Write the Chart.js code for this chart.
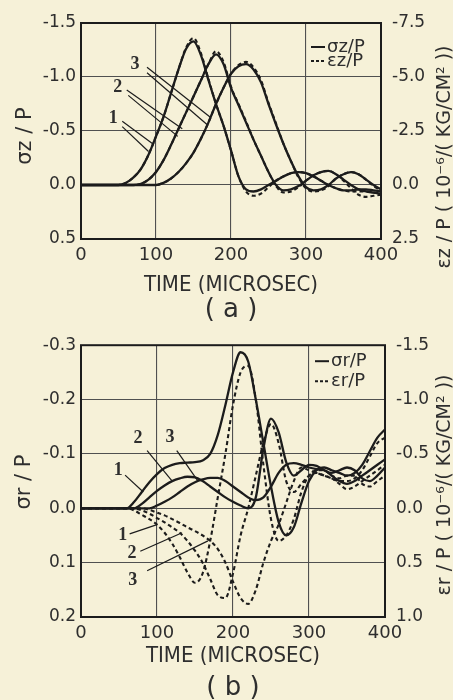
<!DOCTYPE html>
<html>
<head>
<meta charset="utf-8">
<script src="https://cdn.jsdelivr.net/npm/chart.js@4.4.1/dist/chart.umd.min.js"></script>
<style>
  body { margin: 0; background: #f6f1d8; }
  #wrap { position: relative; width: 453px; height: 700px; }
  canvas { position: absolute; left: 0; }
</style>
</head>
<body>
<div id="wrap">
  <canvas id="chartA" width="453" height="330" style="top:0"></canvas>
  <canvas id="chartB" width="453" height="370" style="top:330px"></canvas>
</div>
<script>
// time axis (microsec)
const TIME = [0, 10, 20, 30, 40, 50, 60, 70, 80, 90, 100, 110, 120, 130, 140, 150, 160, 170, 180, 190, 200,
  210, 220, 230, 240, 250, 260, 270, 280, 290, 300, 310, 320, 330, 340, 350, 360, 370, 380, 390, 400];

// (a) sigma_z / P  (left axis)
const SZ1 = [0, 0, 0, 0, 0, 0, -0.02, -0.07, -0.15, -0.28, -0.45, -0.63, -0.85, -1.07, -1.26, -1.33,
  -1.2, -0.97, -0.75, -0.55, -0.32, -0.08, 0.04, 0.06, 0.04, 0.0,
  -0.04, -0.08, -0.11, -0.12, -0.11, -0.08, -0.04, 0.0, 0.03, 0.05, 0.05, 0.04, 0.04, 0.05, 0.06];
const SZ2 = [0, 0, 0, 0, 0, 0, 0, 0, -0.01, -0.05, -0.12, -0.23, -0.37, -0.52, -0.67, -0.82, -0.97, -1.12,
  -1.21, -1.12, -0.9, -0.74, -0.58, -0.42, -0.27, -0.12,
  0.0, 0.05, 0.04, 0.01, -0.04, -0.09, -0.12, -0.13, -0.1, -0.05, 0.0, 0.04, 0.06, 0.07, 0.08];
const SZ3 = [0, 0, 0, 0, 0, 0, 0, 0, 0, 0, 0, -0.02, -0.06, -0.12, -0.2, -0.3, -0.43, -0.58, -0.75, -0.9, -1.03,
  -1.1, -1.12, -1.07, -0.95, -0.75, -0.56, -0.38, -0.22, -0.08, 0.02,
  0.05, 0.04, 0.0, -0.06, -0.1, -0.12, -0.1, -0.05, 0.0, 0.04];

// (a) eps_z / P  (right axis, 10^-6 per KG/CM2)
const EZ1 = [0, 0, 0, 0, 0, 0, -0.1, -0.35, -0.75, -1.4, -2.25, -3.15, -4.25, -5.35, -6.35, -6.8,
  -6.1, -4.9, -3.75, -2.75, -1.6, -0.4, 0.3, 0.5, 0.4, 0.1,
  -0.2, -0.4, -0.55, -0.6, -0.55, -0.4, -0.2, 0.0, 0.15, 0.25, 0.3, 0.3, 0.3, 0.35, 0.4];
const EZ2 = [0, 0, 0, 0, 0, 0, 0, 0, -0.05, -0.25, -0.6, -1.15, -1.85, -2.6, -3.35, -4.1, -4.85, -5.6,
  -6.2, -5.7, -4.55, -3.75, -2.95, -2.1, -1.35, -0.6,
  0.05, 0.35, 0.3, 0.1, -0.2, -0.45, -0.6, -0.65, -0.5, -0.2, 0.15, 0.45, 0.55, 0.5, 0.45];
const EZ3 = [0, 0, 0, 0, 0, 0, 0, 0, 0, 0, 0, -0.1, -0.3, -0.6, -1.0, -1.5, -2.15, -2.9, -3.75, -4.5, -5.15,
  -5.55, -5.7, -5.45, -4.85, -3.8, -2.85, -1.9, -1.1, -0.35, 0.15,
  0.3, 0.25, 0.05, -0.3, -0.5, -0.6, -0.5, -0.25, 0.05, 0.25];

// (b) sigma_r / P  (left axis)
const SR1 = [0, 0, 0, 0, 0, 0, 0, -0.012, -0.03, -0.048, -0.063, -0.074, -0.08, -0.083, -0.084, -0.085, -0.088,
  -0.1, -0.135, -0.19, -0.25, -0.287, -0.27, -0.2, -0.12, -0.04, 0.025,
  0.05, 0.035, -0.01, -0.05, -0.07, -0.075, -0.07, -0.065, -0.06, -0.065, -0.08, -0.105, -0.13, -0.145];
const SR2 = [0, 0, 0, 0, 0, 0, 0, 0, -0.008, -0.02, -0.032, -0.042, -0.05, -0.055, -0.058, -0.057, -0.05, -0.04,
  -0.03, -0.02, -0.012, -0.005, 0.0, -0.02, -0.11, -0.165, -0.14, -0.085,
  -0.06, -0.07, -0.08, -0.078, -0.07, -0.065, -0.07, -0.075, -0.07, -0.055, -0.05, -0.06, -0.075];
const SR3 = [0, 0, 0, 0, 0, 0, 0, 0, 0, 0, -0.005, -0.012, -0.02, -0.03, -0.04, -0.048, -0.053, -0.056, -0.056, -0.05,
  -0.04, -0.03, -0.02, -0.015, -0.02, -0.04, -0.065, -0.08, -0.083, -0.08,
  -0.075, -0.072, -0.07, -0.06, -0.05, -0.045, -0.05, -0.06, -0.07, -0.08, -0.09];

// (b) eps_r / P  (right axis)
const ER1 = [0, 0, 0, 0, 0, 0, 0, 0.02, 0.06, 0.1, 0.15, 0.225, 0.325, 0.45, 0.59, 0.685, 0.6,
  0.3, -0.1, -0.5, -0.95, -1.25, -1.31, -1.0, -0.4, 0.1, 0.3,
  0.25, 0.1, -0.15, -0.3, -0.325, -0.3, -0.275, -0.25, -0.25, -0.275, -0.35, -0.475, -0.6, -0.65];
const ER2 = [0, 0, 0, 0, 0, 0, 0, 0, 0.02, 0.05, 0.09, 0.13, 0.175, 0.225, 0.3, 0.39, 0.5, 0.65,
  0.8, 0.825, 0.6, 0.25, 0.0, -0.3, -0.6, -0.775, -0.6, -0.25,
  -0.15, -0.225, -0.3, -0.35, -0.35, -0.3, -0.275, -0.3, -0.3, -0.225, -0.2, -0.25, -0.3];
const ER3 = [0, 0, 0, 0, 0, 0, 0, 0, 0, 0.015, 0.04, 0.065, 0.1, 0.135, 0.175, 0.21, 0.25, 0.3, 0.375,
  0.5, 0.675, 0.825, 0.88, 0.75, 0.5, 0.3, 0.15, -0.05, -0.25,
  -0.375, -0.35, -0.325, -0.3, -0.275, -0.225, -0.175, -0.2, -0.25, -0.3, -0.35, -0.4];

// curve numbers with their leader lines, in data units (time, left-axis value)
const LABELS_A = [
  { text: "1", at: [43, -0.62], lines: [[55, -0.59, 96, -0.38], [55, -0.54, 90, -0.31]] },
  { text: "2", at: [49, -0.9], lines: [[61, -0.88, 135, -0.52], [63, -0.83, 129, -0.45]] },
  { text: "3", at: [72, -1.12], lines: [[88, -1.09, 172, -0.63], [88, -1.04, 168, -0.56]] },
];
const LABELS_B = [
  { text: "1", at: [49, -0.07], lines: [[58, -0.061, 82, -0.03]] },
  { text: "2", at: [75, -0.128], lines: [[87, -0.106, 120, -0.05]] },
  { text: "3", at: [117, -0.13], lines: [[126, -0.106, 154, -0.05]] },
  { text: "1", at: [55, 0.05], lines: [[64, 0.047, 100, 0.03]] },
  { text: "2", at: [67, 0.083], lines: [[78, 0.079, 133, 0.045]] },
  { text: "3", at: [68, 0.133], lines: [[87, 0.115, 167, 0.06]] },
];

const INK = "#1c1c1c";
const TXT = "#2e2e2e";
const GRID = "#505050";

const pts = (ys) => ys.map((y, i) => ({ x: TIME[i], y: y }));

function solid(ys) {
  return { data: pts(ys), yAxisID: "y", borderColor: INK, borderWidth: 2.3,
    pointRadius: 0, cubicInterpolationMode: "monotone", fill: false };
}
function dashed(ys) {
  return { data: pts(ys), yAxisID: "y2", borderColor: INK, borderWidth: 2.1,
    borderDash: [4, 3], pointRadius: 0, cubicInterpolationMode: "monotone", fill: false };
}

const decor = {
  id: "decor",
  afterDatasetsDraw(chart, args, o) {
    const ctx = chart.ctx, a = chart.chartArea;
    const sx = chart.scales.x, sy = chart.scales.y;
    ctx.save();
    ctx.strokeStyle = INK;
    ctx.lineWidth = 2;
    ctx.strokeRect(a.left, a.top, a.right - a.left, a.bottom - a.top);

    // curve numbers
    ctx.lineWidth = 1.2;
    ctx.fillStyle = TXT;
    ctx.font = 'bold 18px "Liberation Serif"';
    ctx.textAlign = "center";
    ctx.textBaseline = "middle";
    o.labels.forEach((l) => {
      l.lines.forEach((s) => {
        ctx.beginPath();
        ctx.moveTo(sx.getPixelForValue(s[0]), sy.getPixelForValue(s[1]));
        ctx.lineTo(sx.getPixelForValue(s[2]), sy.getPixelForValue(s[3]));
        ctx.stroke();
      });
      ctx.fillText(l.text, sx.getPixelForValue(l.at[0]), sy.getPixelForValue(l.at[1]));
    });

    // legend
    ctx.font = '18px "DejaVu Sans"';
    ctx.textAlign = "left";
    const lx = a.right - 70;
    o.legend.forEach((txt, i) => {
      const ly = a.top + o.legendY[i];
      ctx.beginPath();
      ctx.lineWidth = 2;
      ctx.setLineDash(i ? [3, 2] : []);
      ctx.moveTo(lx, ly);
      ctx.lineTo(lx + 14, ly);
      ctx.stroke();
      ctx.setLineDash([]);
      ctx.fillText(txt, lx + 16, ly, 50);
    });

    // x title and panel letter
    const cx = (a.left + a.right) / 2;
    ctx.textAlign = "center";
    ctx.font = '22px "DejaVu Sans Condensed", "DejaVu Sans"';
    ctx.fillText("TIME (MICROSEC)", cx, o.xTitleY, 180);
    ctx.font = '26px "DejaVu Sans"';
    ctx.fillText(o.panel, cx, o.panelY);

    // rotated axis titles
    ctx.save();
    ctx.translate(o.leftTitle[1], o.leftTitle[2]);
    ctx.rotate(-Math.PI / 2);
    ctx.font = '21px "DejaVu Sans"';
    ctx.fillText(o.leftTitle[0], 0, 0);
    ctx.restore();
    ctx.save();
    ctx.translate(o.rightTitle[1], o.rightTitle[2]);
    ctx.rotate(-Math.PI / 2);
    ctx.font = '19px "DejaVu Sans"';
    ctx.fillText(o.rightTitle[0], 0, 0, 268);
    ctx.restore();
    ctx.restore();
  },
};

function makeChart(id, sets, yl, yr, leftW, rightW, xH, padTop, deco) {
  return new Chart(document.getElementById(id), {
    type: "line",
    data: { datasets: sets },
    plugins: [decor],
    options: {
      responsive: false,
      animation: false,
      layout: { padding: { top: padTop, left: 0, right: 0, bottom: 0 } },
      plugins: { legend: { display: false }, tooltip: { enabled: false }, decor: deco },
      scales: {
        x: {
          type: "linear", min: 0, max: 400,
          afterFit: (s) => { s.height = xH; },
          grid: { color: GRID, lineWidth: 1.1, drawTicks: false },
          border: { display: false },
          ticks: { stepSize: 100, padding: 6, color: TXT, font: { family: "DejaVu Sans", size: 18 } },
        },
        y: {
          position: "left", min: yl[0], max: yl[1], reverse: true,
          afterFit: (s) => { s.width = leftW; },
          grid: { color: GRID, lineWidth: 1.1, drawTicks: false },
          border: { display: false },
          ticks: { stepSize: yl[2], padding: 5, color: TXT, font: { family: "DejaVu Sans", size: 17 },
            callback: (v) => v.toFixed(1) },
        },
        y2: {
          position: "right", min: yr[0], max: yr[1], reverse: true,
          afterFit: (s) => { s.width = rightW; },
          grid: { display: false },
          border: { display: false },
          ticks: { stepSize: yr[2], padding: 3, color: TXT, font: { family: "DejaVu Sans", size: 17 },
            callback: (v) => v.toFixed(1) },
        },
      },
    },
  });
}

makeChart("chartA",
  [solid(SZ1), solid(SZ2), solid(SZ3), dashed(EZ1), dashed(EZ2), dashed(EZ3)],
  [-1.5, 0.5, 0.5], [-7.5, 2.5, 2.5], 81, 72, 91, 23,
  { labels: LABELS_A, legend: ["σz/P", "εz/P"], legendY: [24, 38],
    xTitleY: 285, panel: "( a )", panelY: 310,
    leftTitle: ["σz / P", 26, 136], rightTitle: ["εz / P ( 10⁻⁶/( KG/CM² ))", 445, 157] });

makeChart("chartB",
  [solid(SR1), solid(SR2), solid(SR3), dashed(ER1), dashed(ER2), dashed(ER3)],
  [-0.3, 0.2, 0.1], [-1.5, 1.0, 0.5], 81, 68, 83, 9,
  { labels: LABELS_B, legend: ["σr/P", "εr/P"], legendY: [16, 36],
    xTitleY: 326, panel: "( b )", panelY: 358,
    leftTitle: ["σr / P", 25, 152], rightTitle: ["εr / P ( 10⁻⁶/( KG/CM² ))", 445, 155] });
</script>
</body>
</html>
